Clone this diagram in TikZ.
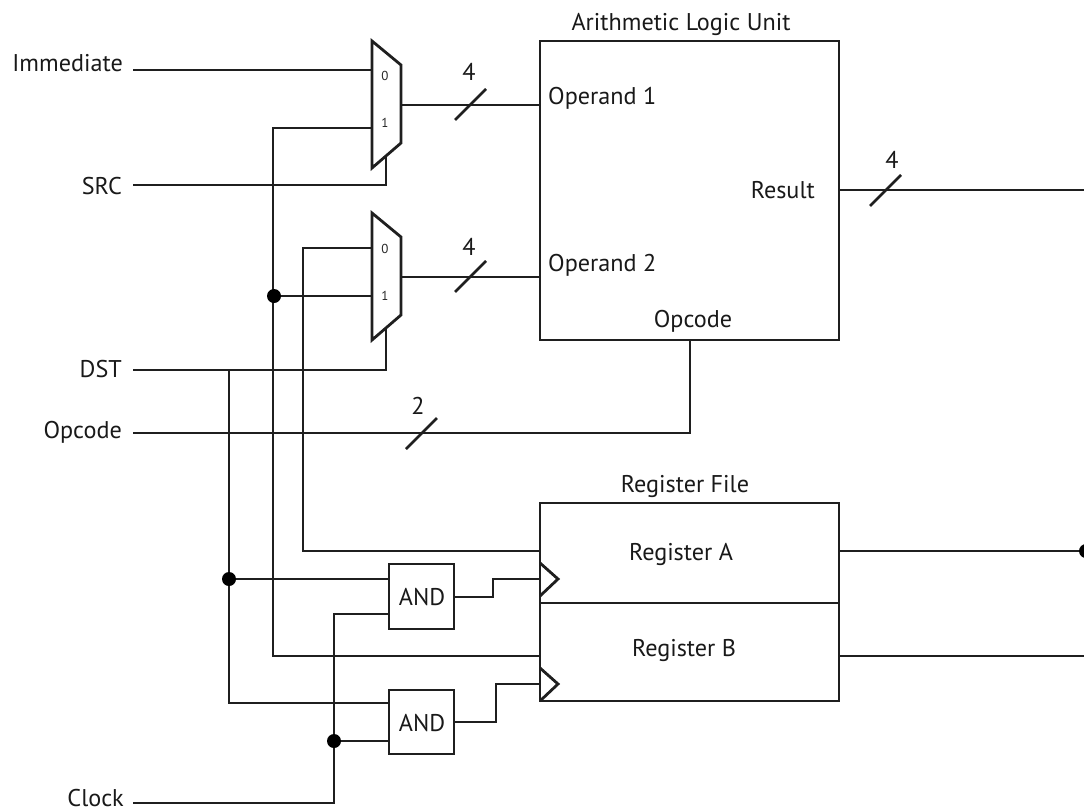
\documentclass[tikz,border=0pt]{standalone}
\usepackage{fontspec}
\setmainfont{PT Sans}
\begin{document}
\begin{tikzpicture}[x=1pt,y=-1pt,
  wire/.style={draw=black!88,line width=2.6pt,line cap=butt,line join=miter},
  part/.style={draw=black!88,line width=2.8pt,line join=miter},
  boxnode/.style={part,rectangle,inner sep=0pt,outer sep=0pt,anchor=north west},
  lbl/.style={text=black!90,font=\fontsize{24.2}{26}\selectfont,inner sep=0pt,yshift=-1.5pt},
  small/.style={text=black!85,font=\fontsize{13}{15}\selectfont,inner sep=0pt},
  dot/.style={circle,fill=black,inner sep=0pt,minimum size=14pt,outer sep=0pt}]
\useasboundingbox (0,0) rectangle (1084,809);
\clip (0,0) rectangle (1084,809);
% free ends and pins
\foreach \n/\x/\y in {
 immL/133/70, srcL/133/185, dstL/133/370, opcL/133/433, clkL/133/803,
 m1a/372/70, m1b/372/128, m1o/401/105, m1s/386/157, m1sb/386/185,
 m2a/372/248, m2b/372/296, m2o/401/277, m2s/386/329, m2sb/386/370,
 o1/540/105, o2/540/277, res/839/190, resR/1084/190,
 opb/690/433, opt/690/341,
 rai/540/551, rao/839/551, raR/1084/551, rbi/540/656, rbo/839/656, rbR/1084/656,
 ck1/540/579, ck2/540/684,
 a1i/389/579, a1c/389/614, a1o/454/597, a2i/389/703, a2c/389/741, a2o/454/722,
 a1m/493/597, a1n/493/579, a2m/496/722, a2n/496/684,
 x303/303/551, y303/303/248, x273/273/128, y273/273/656,
 x229/229/370, y229/229/703, x334/334/803, y334/334/614}
 {\coordinate (\n) at (\x,\y);}
% blocks
\node[boxnode,minimum width=299pt,minimum height=299pt] (alu) at (540,41) {};
\node[boxnode,minimum width=299pt,minimum height=198pt] (rf) at (540,503) {};
\coordinate (divL) at (540,603); \coordinate (divR) at (839,603);
\draw[part] (divL) -- (divR);
\node[boxnode,minimum width=65pt,minimum height=65pt] (and1) at (389,564) {};
\node[boxnode,minimum width=65pt,minimum height=64pt] (and2) at (389,690) {};
\node[lbl] (and1t) at (422,596) {AND};
\node[lbl] (and2t) at (422,722) {AND};
% muxes
\draw[part] (372,41) -- (401,65) -- (401,143) -- (372,168) -- cycle;
\draw[part] (372,213) -- (401,237) -- (401,315) -- (372,340) -- cycle;
% clock triangles
\draw[part] (540,563) -- (558,579) -- (540,596);
\draw[part] (540,668) -- (558,684) -- (540,701);
% wires
\draw[wire] (immL) -- (m1a);
\draw[wire] (srcL) -- (m1sb) -- (m1s);
\draw[wire] (dstL) -- (m2sb) -- (m2s);
\draw[wire] (m1o) -- (o1);
\draw[wire] (m2o) -- (o2);
\draw[wire] (res) -- (resR);
\draw[wire] (opcL) -- (opb) -- (opt);
\draw[wire] (rai) -- (x303) -- (y303) -- (m2a);
\draw[wire] (m1b) -- (x273) -- (y273) -- (rbi);
\draw[wire] (273,296) -- (m2b);
\draw[wire] (x229) -- (y229) -- (a2i);
\draw[wire] (229,579) -- (a1i);
\draw[wire] (clkL) -- (x334) -- (y334) -- (a1c);
\draw[wire] (334,741) -- (a2c);
\draw[wire] (a1o) -- (a1m) -- (a1n) -- (ck1);
\draw[wire] (a2o) -- (a2m) -- (a2n) -- (ck2);
\draw[wire] (rao) -- (raR);
\draw[wire] (rbo) -- (rbR);
% bus slashes
\draw[wire] (455,120) -- (486,89);
\draw[wire] (455,292) -- (486,261);
\draw[wire] (870,206) -- (901,175);
\draw[wire] (406,449) -- (437,418);
% dots
\node[dot] (d1) at (274,296) {};
\node[dot] (d2) at (229,579) {};
\node[dot] (d3) at (334,741) {};
\node[dot] (d4) at (1086,551) {};
% labels
\node[lbl,anchor=east] (timm) at (123,62) {Immediate};
\node[lbl,anchor=east] (tsrc) at (122,185) {SRC};
\node[lbl,anchor=east] (tdst) at (122,368) {DST};
\node[lbl,anchor=east] (topc) at (122,431) {Opcode};
\node[lbl,anchor=east] (tclk) at (124,797) {Clock};
\node[lbl] (talu) at (681,23) {Arithmetic Logic Unit};
\node[lbl,anchor=west] (top1) at (548,97) {Operand 1};
\node[lbl,anchor=west] (top2) at (548,264) {Operand 2};
\node[lbl,anchor=east] (tres) at (815,189) {Result};
\node[lbl] (topi) at (693,320) {Opcode};
\node[lbl] (trf) at (685,485) {Register File};
\node[lbl] (tra) at (681,553) {Register A};
\node[lbl] (trb) at (684,649) {Register B};
\node[lbl] (b1) at (469,70) {4};
\node[lbl] (b2) at (469,245) {4};
\node[lbl] (b3) at (892,158) {4};
\node[lbl] (b4) at (418,404) {2};
\node[small] (s1) at (385,76) {0};
\node[small] (s2) at (385,123) {1};
\node[small] (s3) at (385,249) {0};
\node[small] (s4) at (385,296) {1};
\end{tikzpicture}
\end{document}
